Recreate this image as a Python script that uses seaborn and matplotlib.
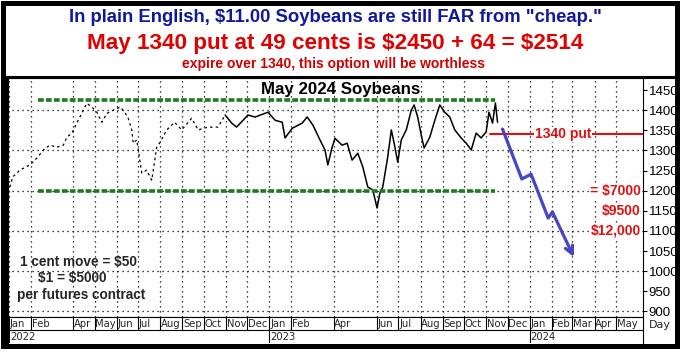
import seaborn as sns
import matplotlib.pyplot as plt
import matplotlib.dates as mdates
from matplotlib.patches import Rectangle
from matplotlib.lines import Line2D
import pandas as pd

# =============================================================================
# DATA  (May 2024 soybean futures, cents per bushel)
# =============================================================================
# thinly traded part of the contract (drawn broken)
early_dates = ['2022-01-02', '2022-01-06', '2022-01-16', '2022-01-30', '2022-02-09',
               '2022-02-18', '2022-02-27', '2022-03-09', '2022-03-18', '2022-03-23',
               '2022-03-30', '2022-04-08', '2022-04-13', '2022-04-20', '2022-04-27',
               '2022-05-04', '2022-05-11', '2022-05-18', '2022-05-27', '2022-06-06',
               '2022-06-13', '2022-06-17', '2022-06-22', '2022-06-24', '2022-06-29',
               '2022-07-06', '2022-07-13', '2022-07-20', '2022-07-27', '2022-07-31',
               '2022-08-10', '2022-08-21', '2022-08-31', '2022-09-14', '2022-09-23',
               '2022-10-07', '2022-10-21', '2022-10-31']
early_prices = [1209, 1234, 1251, 1264, 1281,
                1301, 1313, 1308, 1313, 1333,
                1343, 1375, 1393, 1417, 1408,
                1395, 1370, 1392, 1400, 1408,
                1392, 1380, 1351, 1318, 1326,
                1244, 1251, 1226, 1308, 1318,
                1351, 1370, 1351, 1380, 1351,
                1358, 1358, 1388]

# actively traded part
recent_dates = ['2022-10-31', '2022-11-09', '2022-11-16', '2022-12-02', '2022-12-12',
                '2022-12-30', '2023-01-09', '2023-01-19', '2023-01-23', '2023-02-02',
                '2023-02-16', '2023-02-23', '2023-03-03', '2023-03-13', '2023-03-20',
                '2023-03-24', '2023-03-30', '2023-04-03', '2023-04-13', '2023-04-20',
                '2023-04-27', '2023-05-05', '2023-05-12', '2023-05-19', '2023-05-26',
                '2023-06-01', '2023-06-05', '2023-06-09', '2023-06-16', '2023-06-21',
                '2023-06-25', '2023-06-30', '2023-07-05', '2023-07-12', '2023-07-19',
                '2023-07-23', '2023-07-28', '2023-08-02', '2023-08-06', '2023-08-14',
                '2023-08-21', '2023-08-28', '2023-09-04', '2023-09-11', '2023-09-18',
                '2023-09-27', '2023-10-04', '2023-10-11', '2023-10-18', '2023-10-25',
                '2023-11-01', '2023-11-05', '2023-11-10', '2023-11-14', '2023-11-17']
recent_prices = [1388, 1368, 1358, 1388, 1383,
                 1395, 1375, 1370, 1331, 1355,
                 1368, 1383, 1363, 1326, 1301,
                 1264, 1308, 1330, 1313, 1318,
                 1276, 1293, 1259, 1209, 1202,
                 1157, 1194, 1209, 1284, 1351,
                 1318, 1271, 1326, 1351, 1400,
                 1413, 1383, 1338, 1306, 1333,
                 1375, 1413, 1395, 1383, 1351,
                 1331, 1318, 1301, 1343, 1331,
                 1346, 1395, 1368, 1418, 1370]

# projected path (blue arrow)
proj_dates = ['2023-11-24', '2023-12-21', '2024-01-03', '2024-01-27', '2024-02-02', '2024-03-03']
proj_prices = [1353, 1229, 1241, 1132, 1147, 1035]

# trading range and put strike
range_high = 1425
range_low = 1200
range_dates = ['2022-02-10', '2023-11-13']
put_strike = 1340
put_dates = ['2023-11-07', '2024-06-08']

loss_levels = [1200, 1150, 1100]
loss_labels = ['= $7000', '$9500', '$12,000']

y_ticks = list(range(900, 1451, 50))
grid_levels = list(range(900, 1401, 100))

month_ticks = ['2022-01-01', '2022-02-01', '2022-04-01', '2022-05-01', '2022-06-01',
               '2022-07-01', '2022-08-01', '2022-09-01', '2022-10-01', '2022-11-01',
               '2022-12-01', '2023-01-01', '2023-02-01', '2023-04-01', '2023-06-01',
               '2023-07-01', '2023-08-01', '2023-09-01', '2023-10-01', '2023-11-01',
               '2023-12-01', '2024-01-01', '2024-02-01', '2024-03-01', '2024-04-01',
               '2024-05-01']
year_ticks = ['2022-01-01', '2023-01-01', '2024-01-01']
x_range = ['2021-12-29', '2024-06-08']

# =============================================================================
# STYLE
# =============================================================================
sns.set_theme(style="white")
plt.rcParams['font.family'] = ['Liberation Sans', 'DejaVu Sans']
plt.rcParams['text.parse_math'] = False

W, H = 684, 353
fig = plt.figure(figsize=(W / 100, H / 100), dpi=100)

def px(x0, y0, x1, y1):
    # pixel box -> figure fraction rectangle
    return [x0 / W, 1 - y1 / H, (x1 - x0) / W, (y1 - y0) / H]

ax = fig.add_axes(px(7, 78, 643, 317))
axd = fig.add_axes(px(7, 317, 643, 343))

early = pd.DataFrame({'date': pd.to_datetime(early_dates), 'price': early_prices})
recent = pd.DataFrame({'date': pd.to_datetime(recent_dates), 'price': recent_prices})
proj = pd.DataFrame({'date': pd.to_datetime(proj_dates), 'price': proj_prices})
xlim = [mdates.date2num(pd.Timestamp(d)) for d in x_range]

# grid
for lvl in grid_levels:
    ax.axhline(lvl, color='black', lw=0.9, ls=(0, (1, 3)), zorder=0)
for d in month_ticks:
    ax.axvline(pd.Timestamp(d), color='black', lw=0.9, ls=(0, (1, 3)), zorder=0)

# price history
sns.lineplot(data=early, x='date', y='price', ax=ax, color='black', lw=0.9,
             linestyle=(0, (2, 2.5)), sort=False)
sns.lineplot(data=recent, x='date', y='price', ax=ax, color='black', lw=1.1, sort=False)

# trading range
for lvl in (range_high, range_low):
    ax.plot(pd.to_datetime(range_dates), [lvl, lvl], color='#1f7a1f', lw=2.6,
            ls=(0, (1.6, 0.6)), solid_capstyle='butt')

# put strike
ax.plot(pd.to_datetime(put_dates), [put_strike, put_strike], color='#e01010', lw=1.5)
ax.text(pd.Timestamp('2024-02-17'), put_strike, '1340 put', color='#e01010',
        fontsize=10, fontweight='bold', ha='center', va='center',
        bbox=dict(fc='white', ec='none', pad=0.3))

# projected decline
blue = '#4646c4'
sns.lineplot(data=proj.iloc[:-1], x='date', y='price', ax=ax, color=blue, lw=2.3, sort=False)
ax.annotate('', xy=(proj['date'].iloc[-1], proj['price'].iloc[-1]),
            xytext=(proj['date'].iloc[-2], proj['price'].iloc[-2]),
            arrowprops=dict(arrowstyle='->', color=blue, lw=2.3, mutation_scale=14,
                            shrinkA=0, shrinkB=0))

# dollar losses
for lvl, lab in zip(loss_levels, loss_labels):
    ax.text(pd.Timestamp('2024-06-05'), lvl, lab, color='#e01010', fontsize=10,
            fontweight='bold', ha='right', va='center',
            bbox=dict(fc='white', ec='none', pad=0.3))

ax.text(0.524, 0.953, 'May 2024 Soybeans', transform=ax.transAxes, fontsize=12.2,
        fontweight='bold', ha='center', va='center', color='black')

ax.text(0.113, 0.231, '1 cent move = $50', transform=ax.transAxes, fontsize=9.8,
        fontweight='bold', ha='center', va='center')
ax.text(0.102, 0.164, '$1 = $5000', transform=ax.transAxes, fontsize=9.8,
        fontweight='bold', ha='center', va='center')
ax.text(0.116, 0.092, 'per futures contract', transform=ax.transAxes, fontsize=9.8,
        fontweight='bold', ha='center', va='center')

ax.set_xlim(xlim)
ax.set_ylim(886, 1480)
ax.set_xticks([])
ax.yaxis.tick_right()
ax.set_yticks(y_ticks)
ax.tick_params(axis='y', direction='out', length=3, width=0.8, pad=1,
               labelsize=9.5, right=True, left=False, colors='black')
ax.set_xlabel('')
ax.set_ylabel('')
for s in ax.spines.values():
    s.set_color('black')
    s.set_linewidth(0.8)
ax.spines['left'].set_linewidth(3)

# month / year band
axd.set_xlim(xlim)
axd.set_ylim(0, 2)
axd.axhline(1, color='black', lw=0.8)
for d in month_ticks:
    t = pd.Timestamp(d)
    axd.plot([t, t], [1, 2], color='black', lw=0.8)
    axd.text(mdates.date2num(t + pd.Timedelta(days=1)), 1.45, t.strftime('%b'),
             fontsize=7.2, ha='left', va='center', family=['DejaVu Sans'])
for d in year_ticks:
    t = pd.Timestamp(d)
    axd.plot([t, t], [0, 1], color='black', lw=0.8)
    axd.text(mdates.date2num(t + pd.Timedelta(days=1)), 0.45, t.strftime('%Y'),
             fontsize=7.2, ha='left', va='center', family=['DejaVu Sans'])
axd.set_xticks([])
axd.set_yticks([])
for s in axd.spines.values():
    s.set_color('black')
    s.set_linewidth(0.8)
axd.spines['left'].set_linewidth(3)
axd.spines['bottom'].set_visible(False)

fig.text(660 / W, 1 - 325 / H, 'Day', fontsize=8, ha='center', va='center',
         family=['DejaVu Sans'])

# header
fig.text(335 / W, 1 - 18 / H, 'In plain English, $11.00 Soybeans are still FAR from "cheap."',
         color='#10189c', fontsize=13.3, fontweight='bold', ha='center', va='center')
fig.text(335 / W, 1 - 43 / H, 'May 1340 put at 49 cents is $2450 + 64 = $2514',
         color='#e00000', fontsize=16.2, fontweight='bold', ha='center', va='center')
fig.text(334 / W, 1 - 64 / H, 'expire over 1340, this option will be worthless',
         color='#d00000', fontsize=10, fontweight='bold', ha='center', va='center')

# frame
fig.add_artist(Rectangle((2.5 / W, 1 - 345.5 / H), 674 / W, 343 / H, transform=fig.transFigure,
                         fill=False, ec='black', lw=3.6))
fig.add_artist(Line2D([2.5 / W, 676.5 / W], [1 - 76.5 / H, 1 - 76.5 / H],
                      transform=fig.transFigure, color='black', lw=2.2))

fig.savefig('out.png', dpi=100)
plt.close(fig)
